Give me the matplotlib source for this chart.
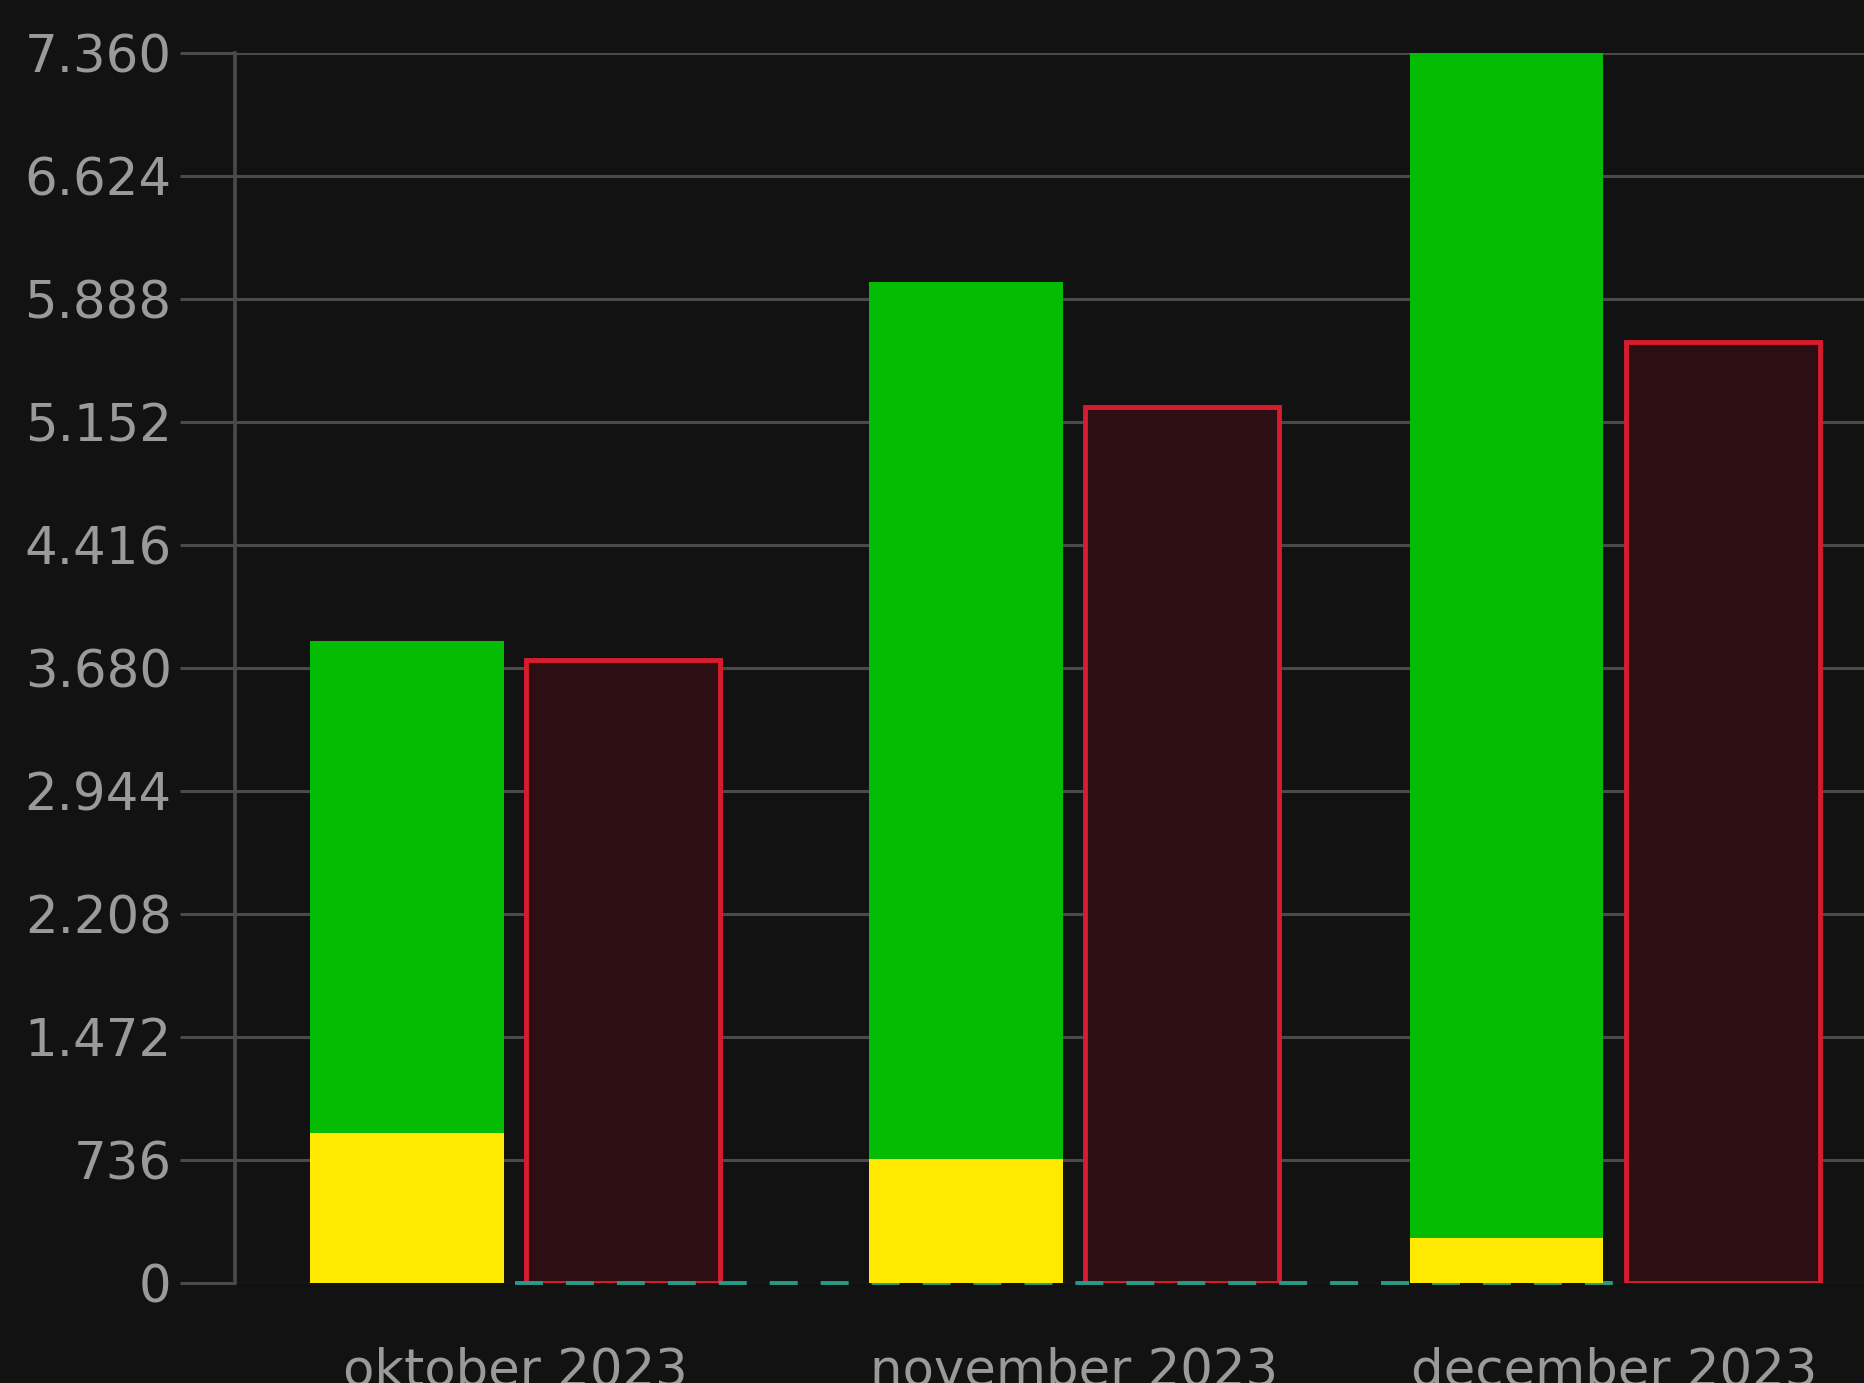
import matplotlib
matplotlib.use("Agg")
import matplotlib.pyplot as plt
import matplotlib.dates as mdates
from matplotlib.ticker import FixedLocator, FuncFormatter
from datetime import datetime

# data
months = [datetime(2023, 10, 1), datetime(2023, 11, 1), datetime(2023, 12, 1)]
month_labels = ["oktober 2023", "november 2023", "december 2023"]
yellow_vals = [896, 740, 270]          # bottom part of stacked bar
totals = [3840, 5988, 7360]            # top of the green bar
red_vals = [3726, 5241, 5632]          # outlined bar
line_vals = [0, 0, 0]                  # dashed series
green_vals = [t - y for t, y in zip(totals, yellow_vals)]
y_ticks = [0, 736, 1472, 2208, 2944, 3680, 4416, 5152, 5888, 6624, 7360]

bg = "#121212"
grid_c = "#4a4a4a"
text_c = "#9a9a9a"

x = mdates.date2num(months)
w = 10.75     # bar width in days
off = 6.0

fig = plt.figure(figsize=(18.64, 13.83), dpi=100, facecolor=bg)
ax = fig.add_axes([235 / 1864, 100 / 1383, 1 - 235 / 1864, 1230 / 1383])
ax.set_facecolor(bg)

ax.bar(x - off, yellow_vals, width=w, color="#ffe900", zorder=4)
ax.bar(x - off, green_vals, width=w, bottom=yellow_vals, color="#04bc04", zorder=4)
ax.bar(x + off, red_vals, width=w, facecolor="#2d0f13", edgecolor="#d81b2e",
       linewidth=3.5, zorder=2)
ax.plot(x, line_vals, color="#2a9a88", linewidth=2.8,
        linestyle=(0, (7.2, 5.9)), zorder=3, clip_on=False)

ax.set_xlim(x[0] - 15.53, x[0] - 15.53 + 90.36)
ax.set_ylim(0, 7360)

ax.yaxis.set_major_locator(FixedLocator(y_ticks))
ax.yaxis.set_major_formatter(FuncFormatter(lambda v, p: format(int(v), ",").replace(",", ".")))
ax.set_xticks(x)
ax.set_xticklabels(month_labels)

ax.grid(axis="y", color=grid_c, linewidth=2.2, zorder=0)
ax.set_axisbelow(True)
ax.tick_params(axis="y", length=39.6, width=2.2, color=grid_c, pad=6,
               labelsize=37, labelcolor=text_c)
ax.tick_params(axis="x", length=0, pad=46, labelsize=37, labelcolor=text_c)

# zero line is almost invisible in the original
ax.get_ygridlines()[0].set_color("#181818")
ax.yaxis.get_major_ticks()[0].tick1line.set_color("#181818")

for s in ["top", "right", "bottom"]:
    ax.spines[s].set_visible(False)
ax.spines["left"].set_color(grid_c)
ax.spines["left"].set_linewidth(2.6)

fig.savefig("out.png", dpi=100, facecolor=bg)
